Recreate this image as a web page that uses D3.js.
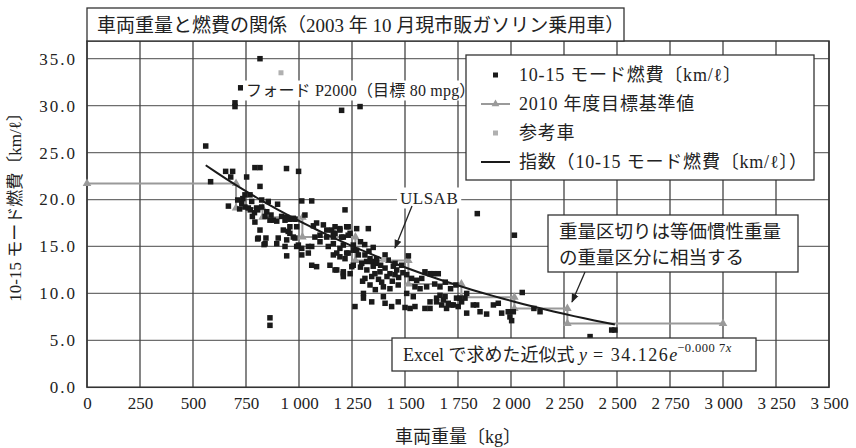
<!DOCTYPE html>
<html>
<head>
<meta charset="utf-8">
<script src="https://cdn.jsdelivr.net/npm/d3@7"></script>
<style>
body { margin: 0; background: #fff; }
text { font-family: "Liberation Serif", "Noto Sans CJK JP", serif; fill: #222; }
</style>
</head>
<body>
<svg width="856" height="448"></svg>
<script>
const width = 856;
const height = 448;

//--------------------data--------------------
// cars on sale (Oct 2003): vehicle weight [kg] and 10-15 mode mileage [km/l]
const carWeight = [
    560, 583, 654, 687, 678, 667, 698, 698, 725, 816, 1201, 1288, 863, 863, 753, 792, 816, 816, 941, 998, 1841, 2016,
    711, 730, 745, 769, 745, 761, 777, 800, 824, 824, 855, 899, 848, 868, 879, 840, 863, 895, 918, 934, 957, 981,
    792, 816, 805, 844, 835, 808, 840, 895, 942, 973, 957, 989, 926, 957, 973, 942, 997, 942, 1013, 1044,
    1013, 1060, 1028, 1083, 1115, 934, 989, 1044, 981, 902, 1075, 1099, 1131, 1154, 949,
    735, 720, 790, 805, 780, 770,
    1060, 1083, 1146, 1178, 1209, 1256, 1241, 1013, 1060, 1099, 1068, 1131, 1162, 1193, 1225, 1162, 1209, 1241,
    1256, 1256, 1162, 1138, 1193, 1225, 1217, 1170, 1193, 1232, 1170, 1201, 1232, 1162, 1209, 1232, 1178, 1217,
    1193, 1170, 1209, 1209, 1249, 1264,
    1272, 1327, 1272, 1280, 1311, 1335, 1366, 1406, 1421, 1296, 1319, 1343, 1366, 1453, 1484, 1311, 1343, 1358,
    1382, 1406, 1429, 1453, 1461, 1335, 1398, 1429, 1468, 1304, 1304, 1343, 1398, 1406, 1437, 1468,
    1290, 1320, 1350, 1375, 1390, 1415, 1440, 1470, 1490, 1300, 1360, 1385, 1445, 1330, 1290, 1310, 1350,
    1516, 1508, 1531, 1555, 1579, 1594, 1618, 1657, 1634, 1547, 1571, 1602, 1508, 1539, 1524, 1500, 1547, 1618,
    1649, 1681, 1704, 1728, 1759, 1751, 1665, 1689, 1594, 1618, 1783, 1791, 1649, 1673, 1696, 1720, 1743, 1767,
    1640, 1665, 1690, 1715, 1740,
    1791, 1822, 1838, 1854, 1885, 1917, 1940, 1956, 1987, 2011, 1995, 2003, 2053, 2108, 2137, 2373, 2475, 2490
];
const carMileage = [
    25.7, 21.9, 23.0, 23.0, 22.4, 19.3, 30.3, 29.9, 31.9, 35.0, 29.5, 29.9, 7.4, 6.6, 22.4, 23.4, 23.4, 21.4, 23.3, 23.0, 18.5, 16.2,
    19.95, 19.6, 20.5, 20.5, 19.2, 19.1, 19.8, 19.1, 19.95, 19.2, 19.8, 19.5, 18.7, 18.35, 17.8, 18.2, 17.8, 17.7, 18.2, 17.8, 17.9, 17.9,
    17.6, 16.75, 15.8, 15.9, 15.2, 15.9, 15.3, 15.3, 18.1, 18.0, 17.1, 17.1, 16.75, 16.4, 16.0, 15.7, 15.15, 14.0, 14.1, 14.3,
    19.85, 19.85, 18.35, 17.5, 17.3, 15.0, 15.0, 15.0, 15.9, 15.9, 16.0, 16.2, 16.0, 16.75, 16.6,
    20.1, 19.0, 18.6, 18.9, 18.2, 18.9,
    13.0, 12.85, 13.0, 12.5, 12.1, 13.0, 12.1, 14.8, 15.0, 15.5, 17.2, 16.75, 16.4, 16.75, 17.1, 16.0, 16.0, 16.4,
    15.15, 14.6, 14.1, 15.0, 14.8, 14.3, 18.9, 17.1, 16.9, 17.1, 16.4, 16.0, 16.2, 15.3, 15.15, 14.3, 14.3, 13.7,
    13.9, 12.5, 12.3, 11.8, 12.85, 8.6,
    16.9, 16.9, 14.6, 14.1, 14.1, 13.7, 13.7, 14.1, 13.55, 13.2, 13.4, 13.4, 13.2, 13.2, 13.0, 11.6, 11.8, 12.1,
    12.3, 12.7, 12.1, 12.0, 12.5, 10.9, 10.7, 10.5, 10.9, 10.0, 9.5, 9.1, 9.65, 8.95, 8.6, 9.1,
    12.8, 12.5, 12.9, 11.5, 11.2, 11.8, 11.3, 11.7, 12.2, 11.3, 10.4, 13.0, 12.9, 14.5, 15.5, 15.2, 14.9,
    14.0, 12.0, 11.6, 11.4, 11.6, 12.3, 12.1, 12.1, 12.1, 10.7, 10.5, 10.7, 10.0, 9.65, 8.4, 8.5, 8.6, 9.1,
    9.5, 9.3, 8.95, 8.77, 9.5, 8.6, 9.8, 9.65, 8.4, 8.4, 9.5, 10.0, 9.1, 8.77, 8.4, 8.77, 9.5, 9.1,
    11.0, 10.7, 11.2, 10.5, 10.9,
    7.9, 8.77, 8.77, 8.05, 7.8, 8.77, 8.95, 7.9, 8.05, 8.05, 7.5, 7.1, 10.1, 8.4, 8.05, 5.4, 6.1, 6.1
];

// reference cars
const refWeight = [915, 1400];
const refMileage = [33.5, 13.6];

// 2010 target standard: weight class edges [kg] and target value of each class
const classEdge = [0, 703, 828, 1016, 1266, 1516, 1766, 2016, 2266, 3000];
const classTarget = [21.7, 19.1, 18.1, 16.0, 13.5, 11.0, 9.6, 8.4, 6.8];

// exponential trend y = a * exp(k x) as drawn in the chart
const trendA = 34.126;
const trendK = -0.000655;

const xTicks = [0, 250, 500, 750, 1000, 1250, 1500, 1750, 2000, 2250, 2500, 2750, 3000, 3250, 3500];
const yTicks = [0, 5, 10, 15, 20, 25, 30, 35];

//--------------------scales--------------------
const plotL = 87, plotR = 829, plotT = 41, plotB = 387.3;
const x = d3.scaleLinear().domain([0, 3500]).range([plotL, plotR]);
const y = d3.scaleLinear().domain([0, 35]).range([plotB, 58.7]);

const svg = d3.select("svg");

svg.append("defs").append("marker")
    .attr("id", "arrow")
    .attr("viewBox", "0 0 10 10")
    .attr("refX", 9).attr("refY", 5)
    .attr("markerWidth", 9).attr("markerHeight", 9)
    .attr("markerUnits", "userSpaceOnUse")
    .attr("orient", "auto")
    .append("path")
    .attr("d", "M0,1 L10,5 L0,9 z")
    .attr("fill", "#222");

//--------------------grid--------------------
svg.append("g").selectAll("line")
    .data(yTicks)
    .enter()
    .append("line")
    .attr("x1", plotL).attr("x2", plotR)
    .attr("y1", d => y(d)).attr("y2", d => y(d))
    .attr("stroke", "#6e6e6e")
    .attr("stroke-width", 1.3);

svg.append("g").selectAll("line")
    .data(xTicks)
    .enter()
    .append("line")
    .attr("x1", d => x(d)).attr("x2", d => x(d))
    .attr("y1", plotT).attr("y2", plotB)
    .attr("stroke", "#444")
    .attr("stroke-width", 1.3);

svg.append("rect")
    .attr("x", plotL).attr("y", plotT)
    .attr("width", plotR - plotL).attr("height", plotB - plotT)
    .attr("fill", "none")
    .attr("stroke", "#333")
    .attr("stroke-width", 1.5);

//--------------------axes--------------------
const yAxis = svg.append("g")
    .attr("transform", "translate(" + plotL + ",0)")
    .call(d3.axisLeft(y).tickValues(yTicks).tickSize(0).tickPadding(10).tickFormat(d3.format(".1f")));
yAxis.select(".domain").remove();
yAxis.selectAll("text")
    .style("font-size", "17px")
    .style("letter-spacing", "2px")
    .attr("fill", "#222");

const xAxis = svg.append("g")
    .attr("transform", "translate(0," + plotB + ")")
    .call(d3.axisBottom(x).tickValues(xTicks).tickSize(0).tickPadding(10)
        .tickFormat(d => d3.format(",")(d).replace(",", " ")));
xAxis.select(".domain").remove();
xAxis.selectAll("text")
    .style("font-size", "17px")
    .attr("fill", "#222");

svg.append("text")
    .attr("x", 458).attr("y", 443)
    .attr("text-anchor", "middle")
    .style("font-size", "18px")
    .text("車両重量〔kg〕");

svg.append("text")
    .attr("transform", "translate(21,203) rotate(-90)")
    .attr("text-anchor", "middle")
    .style("font-size", "17px")
    .text("10-15 モード燃費〔km/ℓ〕");

//--------------------2010 target standard (step line)--------------------
const stepPts = [];
classTarget.forEach((v, i) => {
    stepPts.push([classEdge[i], v]);
    stepPts.push([classEdge[i + 1], v]);
});

svg.append("path")
    .datum(stepPts)
    .attr("d", d3.line().x(d => x(d[0])).y(d => y(d[1])))
    .attr("fill", "none")
    .attr("stroke", "#9a9a9a")
    .attr("stroke-width", 2);

svg.append("g").selectAll("path")
    .data(stepPts)
    .enter()
    .append("path")
    .attr("transform", d => "translate(" + x(d[0]) + "," + y(d[1]) + ")")
    .attr("d", d3.symbol(d3.symbolTriangle).size(32))
    .attr("fill", "#9a9a9a");

//--------------------scatter--------------------
const cars = carWeight.map((w, i) => ({ w: w, v: carMileage[i] }));
const sq = 5.5;
svg.append("g").selectAll("rect")
    .data(cars)
    .enter()
    .append("rect")
    .attr("x", d => x(d.w) - sq / 2)
    .attr("y", d => y(d.v) - sq / 2)
    .attr("width", sq).attr("height", sq)
    .attr("fill", "#1a1a1a");

//--------------------exponential trend over the data range--------------------
const ext = d3.extent(carWeight);
const trendPts = d3.range(0, 41).map(i => {
    const w = ext[0] + (ext[1] - ext[0]) * i / 40;
    return [w, trendA * Math.exp(trendK * w)];
});
svg.append("path")
    .datum(trendPts)
    .attr("d", d3.line().x(d => x(d[0])).y(d => y(d[1])))
    .attr("fill", "none")
    .attr("stroke", "#1a1a1a")
    .attr("stroke-width", 2);

//--------------------reference cars--------------------
svg.append("g").selectAll("rect")
    .data(refWeight)
    .enter()
    .append("rect")
    .attr("x", (d, i) => x(d) - 2.5)
    .attr("y", (d, i) => y(refMileage[i]) - 2.5)
    .attr("width", 5).attr("height", 5)
    .attr("fill", "#b0b0b0");

//--------------------annotations--------------------
function labelOnWhite(tx, ty, str, size, spacing) {
    const g = svg.append("g");
    const t = g.append("text")
        .attr("x", tx).attr("y", ty)
        .attr("dominant-baseline", "central")
        .style("font-size", size + "px")
        .style("letter-spacing", spacing + "px")
        .text(str);
    const bb = t.node().getBBox();
    g.insert("rect", "text")
        .attr("x", bb.x - 3).attr("y", bb.y - 1)
        .attr("width", bb.width + 6).attr("height", bb.height + 2)
        .attr("fill", "#fff");
}

labelOnWhite(246, 90, "フォード P2000（目標 80 mpg）", 16, 0.2);
labelOnWhite(400, 198, "ULSAB", 17, 0.5);

svg.append("line")
    .attr("x1", 412).attr("y1", 206)
    .attr("x2", 395).attr("y2", 248)
    .attr("stroke", "#222").attr("stroke-width", 1.3)
    .attr("marker-end", "url(#arrow)");

// weight class note
svg.append("rect")
    .attr("x", 548).attr("y", 215).attr("width", 250).attr("height", 57)
    .attr("fill", "#fff").attr("stroke", "#333").attr("stroke-width", 1.3);
svg.append("text").attr("x", 559).attr("y", 232)
    .attr("dominant-baseline", "central").style("font-size", "18.5px")
    .text("重量区切りは等価慣性重量");
svg.append("text").attr("x", 559).attr("y", 258)
    .attr("dominant-baseline", "central").style("font-size", "18.5px")
    .text("の重量区分に相当する");
svg.append("line")
    .attr("x1", 585).attr("y1", 272)
    .attr("x2", 572).attr("y2", 302)
    .attr("stroke", "#222").attr("stroke-width", 1.3)
    .attr("marker-end", "url(#arrow)");

// Excel formula box
svg.append("rect")
    .attr("x", 392).attr("y", 338).attr("width", 364).attr("height", 33)
    .attr("fill", "#fff").attr("stroke", "#333").attr("stroke-width", 1.3);
const eq = svg.append("text").attr("x", 403).attr("y", 361).style("font-size", "18px");
eq.append("tspan").text("Excel で求めた近似式 ");
eq.append("tspan").style("font-style", "italic").text("y");
eq.append("tspan").style("letter-spacing", "1.5px").text(" = 34.126");
eq.append("tspan").style("font-style", "italic").text("e");
eq.append("tspan").attr("dy", -9).style("font-size", "12.5px").style("letter-spacing", "0.5px").text("−0.000 7");
eq.append("tspan").style("font-size", "12.5px").style("font-style", "italic").text("x");

//--------------------title--------------------
svg.append("rect")
    .attr("x", plotL).attr("y", 8).attr("width", 537).attr("height", plotT - 8)
    .attr("fill", "#fff").attr("stroke", "#333").attr("stroke-width", 1.3);
svg.append("text")
    .attr("x", 97).attr("y", 25)
    .attr("dominant-baseline", "central")
    .style("font-size", "19px")
    .text("車両重量と燃費の関係（2003 年 10 月現市販ガソリン乗用車）");

//--------------------legend--------------------
const legend = svg.append("g");
legend.append("rect")
    .attr("x", 466).attr("y", 55).attr("width", 348).attr("height", 125)
    .attr("fill", "#fff").attr("stroke", "#333").attr("stroke-width", 1.3);

const legendLabels = ["10-15 モード燃費〔km/ℓ〕", "2010 年度目標基準値", "参考車", "指数（10-15 モード燃費〔km/ℓ〕）"];
const rowY = d3.scaleLinear().domain([0, 3]).range([75, 162]);

legendLabels.forEach((lab, i) => {
    const ly = rowY(i);
    if (i == 0 || i == 2) {
        legend.append("rect")
            .attr("x", 493).attr("y", ly - 2.5).attr("width", 5).attr("height", 5)
            .attr("fill", i == 0 ? "#1a1a1a" : "#b0b0b0");
    } else {
        legend.append("line")
            .attr("x1", 481).attr("x2", 510).attr("y1", ly).attr("y2", ly)
            .attr("stroke", i == 1 ? "#9a9a9a" : "#1a1a1a").attr("stroke-width", 2);
        if (i == 1)
            legend.append("path")
                .attr("transform", "translate(495.5," + ly + ")")
                .attr("d", d3.symbol(d3.symbolTriangle).size(26))
                .attr("fill", "#9a9a9a");
    }
    legend.append("text")
        .attr("x", 519).attr("y", ly)
        .attr("dominant-baseline", "central")
        .style("font-size", "18px")
        .style("letter-spacing", "0.8px")
        .text(lab);
});
</script>
</body>
</html>
